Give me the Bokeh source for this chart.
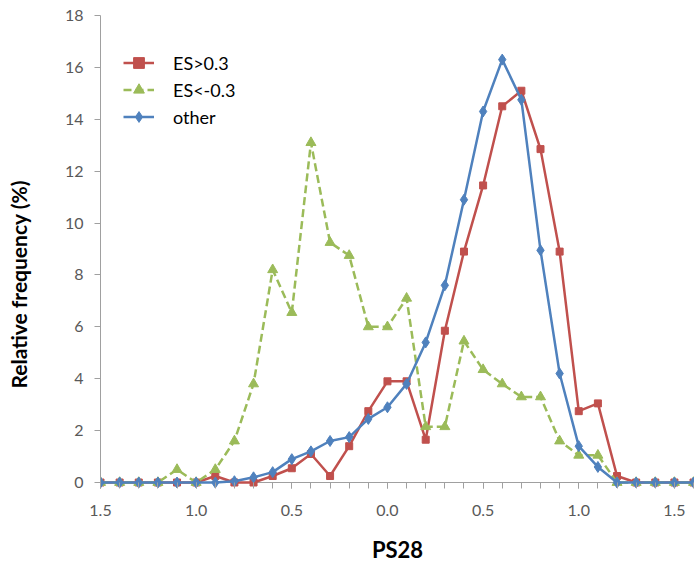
from bokeh.plotting import figure
from bokeh.models import (FixedTicker, CustomJSTickFormatter, Legend, LegendItem,
                          Title, Range1d, Span)
from bokeh.embed import file_html
from bokeh.resources import INLINE

# ---- data ----
ps28 = [-1.5, -1.4, -1.3, -1.2, -1.1, -1.0, -0.9, -0.8, -0.7, -0.6, -0.5, -0.4,
        -0.3, -0.2, -0.1, 0.0, 0.1, 0.2, 0.3, 0.4, 0.5, 0.6, 0.7, 0.8, 0.9, 1.0,
        1.1, 1.2, 1.3, 1.4, 1.5, 1.6]
es_pos = [0, 0, 0, 0, 0, 0, 0.25, 0, 0, 0.25, 0.55, 1.1, 0.25, 1.4, 2.75, 3.9,
          3.9, 1.65, 5.85, 8.9, 11.45, 14.5, 15.1, 12.85, 8.9, 2.75, 3.05, 0.25,
          0, 0, 0, 0]
es_neg = [0, 0, 0, 0, 0.5, 0, 0.5, 1.6, 3.8, 8.2, 6.55, 13.1, 9.25, 8.75, 6.0,
          6.0, 7.1, 2.15, 2.15, 5.45, 4.35, 3.8, 3.3, 3.3, 1.6, 1.05, 1.05, 0,
          0, 0, 0, 0]
other = [0, 0, 0, 0, 0, 0, 0, 0.05, 0.2, 0.4, 0.9, 1.2, 1.6, 1.75, 2.45, 2.9,
         3.8, 5.4, 7.6, 10.9, 14.3, 16.3, 14.75, 8.95, 4.2, 1.4, 0.6, 0, 0, 0,
         0, 0]
y_ticks = [0, 2, 4, 6, 8, 10, 12, 14, 16, 18]
x_ticks = [-1.5, -1.0, -0.5, 0.0, 0.5, 1.0, 1.5]
series_names = ["ES>0.3", "ES<-0.3", "other"]

FONT = "Lato"
RED, GREEN, BLUE = "#C0504D", "#9BBB59", "#4F81BD"
AX = "#a0a0a0"
TL = "#595959"

p = figure(width=694, height=566, output_backend="svg", toolbar_location=None,
           x_range=Range1d(-1.5, 1.605), y_range=Range1d(-0.231, 18),
           min_border_left=100, min_border_right=0, min_border_top=15,
           min_border_bottom=78)
p.outline_line_color = None
p.xgrid.visible = False
p.ygrid.visible = False

# baseline at zero, under the series
p.add_layout(Span(location=0, dimension="width", line_color=AX, line_width=1,
                  level="underlay"))

r1 = p.line(ps28, es_pos, line_color=RED, line_width=2.5)
m1 = p.scatter(ps28, es_pos, marker="square", size=7, fill_color=RED, line_color=RED)
r2 = p.line(ps28, es_neg, line_color=GREEN, line_width=2.5, line_dash="8 4")
m2 = p.scatter(ps28, es_neg, marker="triangle", size=10, fill_color=GREEN, line_color=GREEN)
r3 = p.line(ps28, other, line_color=BLUE, line_width=2.5)
m3 = p.scatter(ps28, other, marker="diamond", size=11, fill_color=BLUE, line_color=BLUE)

xa = p.xaxis[0]
xa.ticker = FixedTicker(ticks=x_ticks, minor_ticks=ps28)
xa.formatter = CustomJSTickFormatter(code="return Math.abs(tick).toFixed(1);")
xa.axis_line_color = None
xa.major_tick_line_color = AX
xa.minor_tick_line_color = AX
xa.major_tick_out = 0
xa.major_tick_in = 6
xa.minor_tick_out = 0
xa.minor_tick_in = 6
xa.major_label_standoff = 16
xa.major_label_text_font = FONT
xa.major_label_text_font_size = "16px"
xa.major_label_text_color = TL
xa.axis_label = "PS28"
xa.axis_label_text_font = FONT
xa.axis_label_text_font_size = "22px"
xa.axis_label_text_font_style = "bold"
xa.axis_label_text_color = "#000000"
xa.axis_label_standoff = 17

ya = p.yaxis[0]
ya.ticker = FixedTicker(ticks=y_ticks)
ya.axis_line_color = AX
ya.major_tick_line_color = AX
ya.minor_tick_line_color = None
ya.major_tick_out = 6
ya.major_tick_in = 0
ya.major_label_standoff = 11
ya.major_label_text_font = FONT
ya.major_label_text_font_size = "16px"
ya.major_label_text_color = TL
# blank axis label used only as a spacer between tick labels and the title
ya.axis_label = " "
ya.axis_label_text_font_size = "10px"
ya.axis_label_standoff = 14

ytitle = Title(text="Relative frequency (%)", align="left", offset=100,
               text_font=FONT, text_font_size="21px", text_font_style="bold",
               text_color="#000000", standoff=6)
p.add_layout(ytitle, "left")

legend = Legend(items=[LegendItem(label=series_names[0], renderers=[r1, m1]),
                       LegendItem(label=series_names[1], renderers=[r2, m2]),
                       LegendItem(label=series_names[2], renderers=[r3, m3])],
                location=(23, 358), padding=0, margin=0, spacing=0,
                glyph_width=31, glyph_height=27, label_height=27,
                label_standoff=19, label_text_font=FONT,
                label_text_font_size="18px", label_text_color="#000000",
                border_line_color=None, background_fill_alpha=0)
p.add_layout(legend)

open("out.html", "w").write(file_html(p, INLINE))
